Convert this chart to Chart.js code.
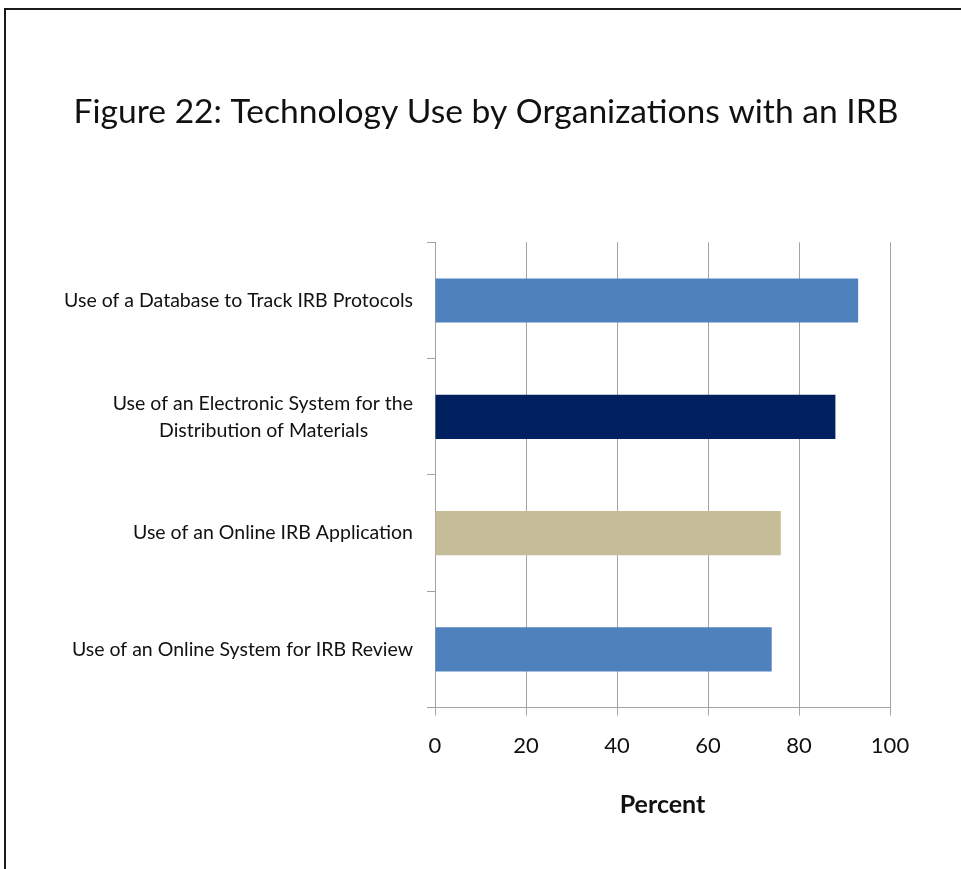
<!DOCTYPE html>
<html lang="en">
<head>
    <meta charset="UTF-8">
    <title>Technology Use by Organizations with an IRB</title>
    <style>
body {
    margin: 0;
    padding: 0;
    background-color: #fff;
}

#wrap {
    position: relative;
    width: 961px;
    height: 869px;
}

/* page frame: only left and top edges are visible */
#frame {
    position: absolute;
    left: 4px;
    top: 8px;
    right: 0;
    bottom: 0;
    border-left: 2px solid #1a1a1a;
    border-top: 2px solid #1a1a1a;
    pointer-events: none;
}
    </style>
    <script src="https://cdn.jsdelivr.net/npm/chart.js"></script>
</head>
<body>
    <div id="wrap">
        <canvas id="techChart"></canvas>
        <div id="frame"></div>
    </div>

    <script>
// Chart data
const categories = [
    'Use of a Database to Track IRB Protocols',
    ['Use of an Electronic System for the', 'Distribution of Materials'],
    'Use of an Online IRB Application',
    'Use of an Online System for IRB Review'
];
const percents = [93, 88, 76, 74];
const barColors = ['#4F81BD', '#002060', '#C4BD97', '#4F81BD'];
const percentTicks = [0, 20, 40, 60, 80, 100];

const labelFont = { family: 'Lato', size: 19.5, lineHeight: 1.38 };
const gridGray = '#a3a3a3';

// centre the lines of a two-line label against each other (labels are right aligned)
const measure = document.createElement('canvas').getContext('2d');
measure.font = `${labelFont.size}px ${labelFont.family}`;
function centerLines(label) {
    if (!Array.isArray(label)) return label;
    const widths = label.map(line => measure.measureText(line).width);
    const longest = Math.max(...widths);
    const space = measure.measureText('\u00a0').width;
    return label.map((line, i) => line + '\u00a0'.repeat(Math.round((longest - widths[i]) / 2 / space)));
}

// the figure title sits a little right of the plot's own centre
const titleShift = {
    id: 'titleShift',
    afterLayout(chart) {
        if (chart.titleBlock) {
            chart.titleBlock.left += 26;
            chart.titleBlock.right += 26;
        }
    }
};

function renderChart() {
    const ctx = document.getElementById('techChart').getContext('2d');
    new Chart(ctx, {
        type: 'bar',
        data: {
            labels: categories,
            datasets: [{
                data: percents,
                backgroundColor: barColors,
                borderWidth: 0,
                categoryPercentage: 1,
                barPercentage: 0.38
            }]
        },
        plugins: [titleShift],
        options: {
            indexAxis: 'y',
            responsive: true,
            maintainAspectRatio: false,
            animation: false,
            layout: {
                padding: { left: 30, right: 71, top: 0, bottom: 49 }
            },
            plugins: {
                legend: { display: false },
                tooltip: { enabled: false },
                title: {
                    display: true,
                    text: 'Figure 22: Technology Use by Organizations with an IRB',
                    color: '#111',
                    font: { family: 'Lato', size: 33.6, weight: 'normal', lineHeight: 1.2 },
                    padding: { top: 92, bottom: 110 }
                }
            },
            scales: {
                x: {
                    min: 0,
                    max: 100,
                    afterBuildTicks: scale => {
                        scale.ticks = percentTicks.map(v => ({ value: v }));
                    },
                    grid: { color: gridGray, tickLength: 8, lineWidth: 1 },
                    border: { color: gridGray },
                    ticks: {
                        color: '#111',
                        padding: 17,
                        font: { family: 'Lato', size: 22, lineHeight: 1.2 }
                    },
                    title: {
                        display: true,
                        text: 'Percent',
                        color: '#111',
                        font: { family: 'Lato', size: 25, weight: 'bold', lineHeight: 1.2 },
                        padding: { top: 14, bottom: 0 }
                    }
                },
                y: {
                    afterFit: scale => { scale.width = 405; },
                    grid: { drawOnChartArea: false, color: gridGray, tickLength: 8, offset: true },
                    border: { color: gridGray },
                    ticks: {
                        color: '#111',
                        padding: 14,
                        font: labelFont,
                        callback: function (value) {
                            return centerLines(this.getLabelForValue(value));
                        }
                    }
                }
            }
        }
    });
}

renderChart();
    </script>
</body>
</html>
